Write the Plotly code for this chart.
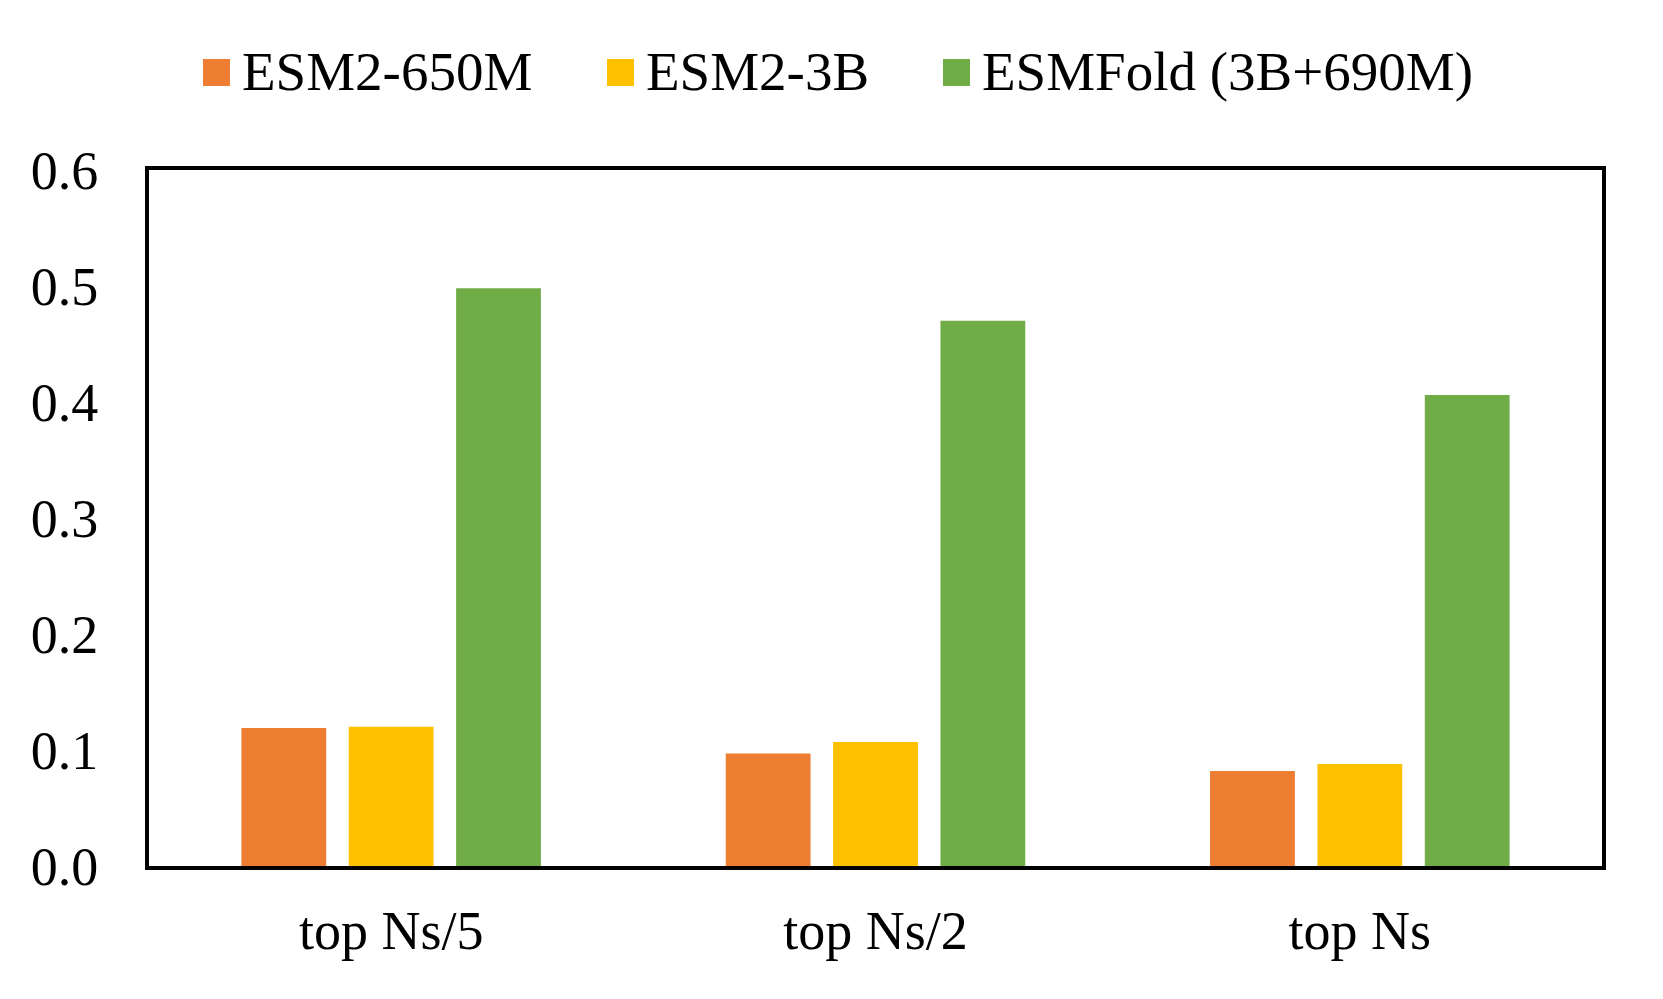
import plotly.graph_objects as go

categories = ["top Ns/5", "top Ns/2", "top Ns"]
series_names = ["ESM2-650M", "ESM2-3B", "ESMFold (3B+690M)"]
esm2_650m = [0.119, 0.097, 0.082]
esm2_3b = [0.120, 0.107, 0.088]
esmfold = [0.498, 0.470, 0.406]
y_ticks = [0.0, 0.1, 0.2, 0.3, 0.4, 0.5, 0.6]
y_tick_text = ["0.0", "0.1", "0.2", "0.3", "0.4", "0.5", "0.6"]
colors = ["#ED7D31", "#FFC000", "#70AD47"]

OFF = 8  # default body margin of the html page
W, H = 1663 - 2 * OFF, 999 - 2 * OFF
# plot-area edges in page pixels, converted to figure pixels
L, R, T, B = 149 - OFF, 1602 - OFF, 170 - OFF, 866 - OFF
FONT = "Liberation Serif, Times New Roman, serif"
FS = 54

fig = go.Figure()
for name, vals, col in zip(series_names, [esm2_650m, esm2_3b, esmfold], colors):
    fig.add_trace(go.Bar(x=categories, y=vals, name=name, marker=dict(color=col, line=dict(width=0)),
                         showlegend=False))

def px_x(p):
    return (p - OFF - L) / (R - L)

def px_y(p):
    return (B - (p - OFF)) / (B - T)

# manual legend (squares + labels), page pixel positions
leg_sq_x = [203, 607, 943]
leg_txt_x = [240, 644, 980]
sq_top, sq_bot = 59, 86
for sx, tx, name, col in zip(leg_sq_x, leg_txt_x, series_names, colors):
    fig.add_shape(type="rect", xref="paper", yref="paper",
                  x0=px_x(sx), x1=px_x(sx + 27), y0=px_y(sq_bot), y1=px_y(sq_top),
                  fillcolor=col, line=dict(width=0))
    fig.add_annotation(xref="paper", yref="paper", x=px_x(tx), y=px_y(71),
                       xanchor="left", yanchor="middle", text=name, showarrow=False,
                       font=dict(family=FONT, size=55, color="black"))

fig.update_layout(
    width=W, height=H,
    margin=dict(l=L, r=W - R, t=T, b=H - B, pad=0),
    paper_bgcolor="white", plot_bgcolor="white",
    barmode="group", bargap=0.335, bargroupgap=0.21,
    font=dict(family=FONT, size=FS, color="black"),
)
fig.update_xaxes(showline=True, linecolor="black", linewidth=4, mirror=True,
                 showgrid=False, ticks="", ticklabelstandoff=14,
                 tickfont=dict(family=FONT, size=FS, color="black"))
fig.update_yaxes(range=[0, 0.6], tickvals=y_ticks, ticktext=y_tick_text,
                 showline=True, linecolor="black", linewidth=4, mirror=True,
                 showgrid=False, zeroline=False, ticks="", ticklabelstandoff=36,
                 tickfont=dict(family=FONT, size=FS, color="black"))

fig.write_html("out.html")
